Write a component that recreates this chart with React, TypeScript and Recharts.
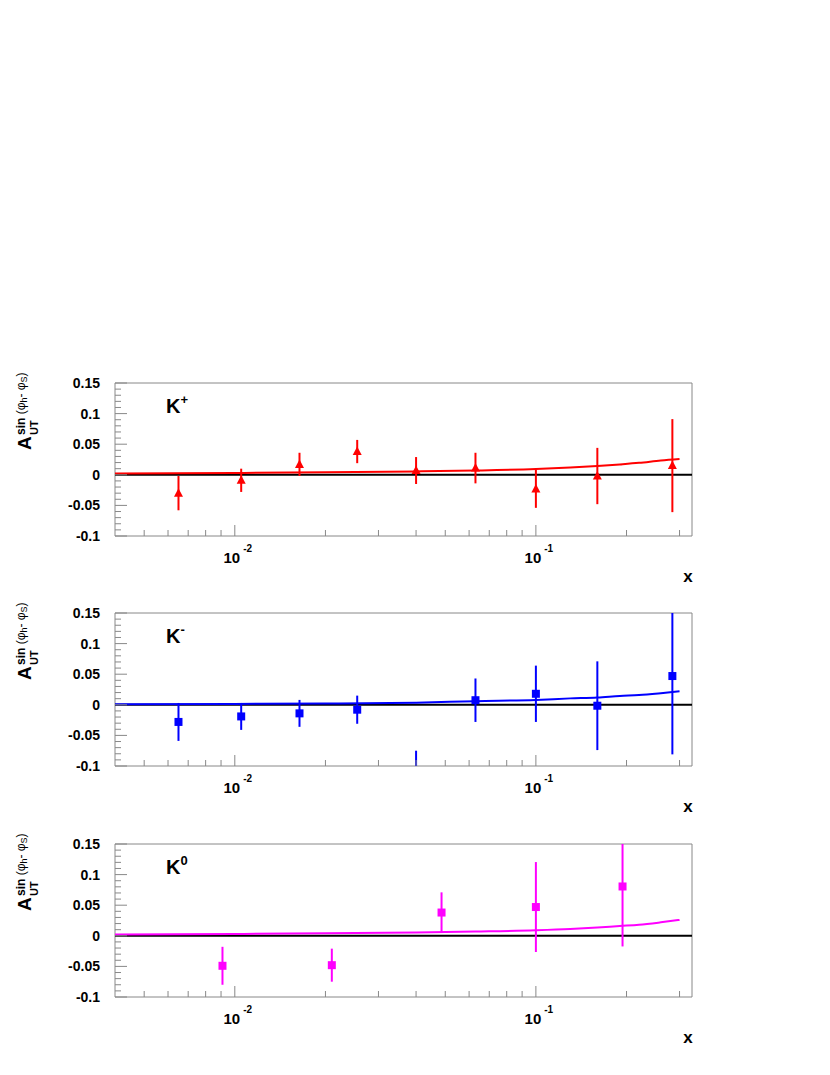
import { ComposedChart, XAxis, YAxis, Line, Scatter, ReferenceLine, ReferenceArea } from 'recharts'

const FONT = '"Liberation Sans", Arial, Helvetica, sans-serif'
const FRAME = '#888'

// axis ticks
const X_TICKS = [0.005, 0.006, 0.007, 0.008, 0.009, 0.01, 0.02, 0.03, 0.04, 0.05, 0.06, 0.07, 0.08, 0.09, 0.1, 0.2, 0.3]
const X_MAJOR = [0.01, 0.1]
const X_EXP: Record<string, string> = { '0.01': '-2', '0.1': '-1' }
const Y_TICKS = [-0.1, -0.09, -0.08, -0.07, -0.06, -0.05, -0.04, -0.03, -0.02, -0.01, 0, 0.01, 0.02, 0.03, 0.04, 0.05, 0.06, 0.07, 0.08, 0.09, 0.1, 0.11, 0.12, 0.13, 0.14, 0.15]
const Y_MAJOR = [-0.1, -0.05, 0, 0.05, 0.1, 0.15]

// K+ data
const KP_X = [0.0065, 0.0105, 0.0164, 0.0255, 0.04, 0.063, 0.1, 0.16, 0.284]
const KP_Y = [-0.03, -0.009, 0.017, 0.038, 0.007, 0.011, -0.023, -0.002, 0.015]
const KP_ERR = [0.028, 0.019, 0.019, 0.019, 0.022, 0.025, 0.031, 0.046, 0.076]

// K- data
const KM_X = [0.0065, 0.0105, 0.0164, 0.0255, 0.04, 0.063, 0.1, 0.16, 0.284]
const KM_Y = [-0.028, -0.019, -0.014, -0.008, -0.13, 0.0075, 0.018, -0.0015, 0.047]
const KM_ERR = [0.031, 0.022, 0.022, 0.023, 0.055, 0.0355, 0.046, 0.0725, 0.128]

// K0 data
const K0_X = [0.0091, 0.021, 0.0486, 0.1, 0.194]
const K0_Y = [-0.049, -0.048, 0.038, 0.047, 0.0806]
const K0_ERR = [0.031, 0.027, 0.033, 0.0735, 0.098]

// model curves
const CURVE_X = [0.004, 0.01, 0.02, 0.04, 0.063, 0.1, 0.13, 0.16, 0.19, 0.22, 0.26, 0.3]
const KP_CURVE = [0.002, 0.003, 0.004, 0.0055, 0.007, 0.0095, 0.012, 0.0145, 0.017, 0.0195, 0.0235, 0.026]
const KM_CURVE = [0.001, 0.0015, 0.002, 0.0035, 0.006, 0.008, 0.0105, 0.012, 0.0145, 0.016, 0.019, 0.022]
const K0_CURVE = [0.002, 0.003, 0.004, 0.0055, 0.007, 0.009, 0.011, 0.0135, 0.016, 0.018, 0.022, 0.026]

type Pt = { x: number; y: number; err: number }

const pts = (xs: number[], ys: number[], es: number[]): Pt[] => xs.map((x, i) => ({ x, y: ys[i], err: es[i] }))
const crv = (ys: number[]) => CURVE_X.map((x, i) => ({ x, y: ys[i] }))

const XTick = (props: any) => {
    const { x, y, payload } = props
    const v = payload.value
    const major = X_MAJOR.includes(v)
    return (
        <g>
            <line x1={x} y1={y} x2={x} y2={y - (major ? 11 : 6)} stroke={FRAME} />
            {major && (
                <text x={x + 3} y={y + 27} textAnchor="middle" fontFamily={FONT} fontWeight="bold" fontSize={15} fill="#000">
                    10<tspan dx={3} dy={-11} fontSize={10}>{X_EXP[String(v)]}</tspan>
                </text>
            )}
        </g>
    )
}

const YTick = (props: any) => {
    const { x, y, payload } = props
    const v = payload.value
    const major = Y_MAJOR.includes(v)
    return (
        <g>
            <line x1={x} y1={y} x2={x + (major ? 12 : 6)} y2={y} stroke={FRAME} />
            {major && (
                <text x={x - 15} y={y + 5} textAnchor="end" fontFamily={FONT} fontWeight="bold" fontSize={14} fill="#000">
                    {String(v)}
                </text>
            )}
        </g>
    )
}

const triangle = (color: string) => (p: any) => (
    <polygon points={`${p.cx},${p.cy - 5} ${p.cx - 4.5},${p.cy + 3.5} ${p.cx + 4.5},${p.cy + 3.5}`} fill={color} />
)
const square = (color: string) => (p: any) => (
    <rect x={p.cx - 4} y={p.cy - 4} width={8} height={8} fill={color} />
)

function panelText(name: string, sup: string) {
    return (props: any) => {
        const { x, y, width, height } = props.viewBox
        const bottom = y + height
        return (
            <g fontFamily={FONT} fontWeight="bold" fill="#000">
                <text x={x + 51} y={y + 30} fontSize={20}>
                    {name}
                    <tspan dy={-9} fontSize={13}>{sup}</tspan>
                </text>
                <text x={x + width - 4} y={bottom + 46} fontSize={17} textAnchor="middle">x</text>
                <g transform={`translate(${x - 84},${y + 67}) rotate(-90)`}>
                    <text x={0} y={0} fontSize={19}>A</text>
                    <text x={15} y={7} fontSize={11}>UT</text>
                    <text x={15} y={-6} fontSize={12}>
                        sin <tspan fontWeight="normal">(φ</tspan>
                        <tspan dy={2} fontSize={9} fontWeight="normal">h</tspan>
                        <tspan dy={-2} fontWeight="normal">- φ</tspan>
                        <tspan dy={2} fontSize={9} fontWeight="normal">S</tspan>
                        <tspan dy={-2} fontWeight="normal">)</tspan>
                    </text>
                </g>
            </g>
        )
    }
}

interface PanelProps {
    top: number
    name: string
    sup: string
    color: string
    points: Pt[]
    curve: { x: number; y: number }[]
    shape: (p: any) => any
}

function Panel({ top, name, sup, color, points, curve, shape }: PanelProps) {
    return (
        <div style={{ position: 'absolute', left: 0, top }}>
            <ComposedChart width={830} height={220} margin={{ top: 13, right: 138, bottom: 0, left: 55 }}>
                <XAxis
                    dataKey="x"
                    type="number"
                    scale="log"
                    domain={[0.004, 0.33]}
                    allowDataOverflow
                    ticks={X_TICKS}
                    interval={0}
                    tickSize={0}
                    tickMargin={0}
                    tickLine={false}
                    axisLine={false}
                    tick={XTick}
                    height={54}
                />
                <YAxis
                    type="number"
                    domain={[-0.1, 0.15]}
                    allowDataOverflow
                    ticks={Y_TICKS}
                    interval={0}
                    tickSize={0}
                    tickMargin={0}
                    tickLine={false}
                    axisLine={false}
                    tick={YTick}
                    width={60}
                />
                <ReferenceArea
                    x1={0.004}
                    x2={0.33}
                    y1={-0.1}
                    y2={0.15}
                    fill="none"
                    stroke={FRAME}
                    strokeWidth={1}
                    label={panelText(name, sup)}
                />
                <ReferenceLine y={0} stroke="#000" strokeWidth={2} />
                <Line data={curve} dataKey="y" type="monotone" stroke={color} strokeWidth={2} dot={false} isAnimationActive={false} />
                {/* error bars as two-point lines so they are clipped to the frame */}
                {points.map((p, i) => (
                    <Line
                        key={`err-${i}`}
                        data={[{ x: p.x, y: p.y - p.err }, { x: p.x, y: p.y + p.err }]}
                        dataKey="y"
                        stroke={color}
                        strokeWidth={2}
                        dot={false}
                        isAnimationActive={false}
                    />
                ))}
                <Scatter data={points} dataKey="y" shape={shape} fill={color} isAnimationActive={false} />
            </ComposedChart>
        </div>
    )
}

export default function App() {
    return (
        <div style={{ position: 'absolute', left: 0, top: 0, width: 830, height: 1075, background: '#fff' }}>
            <Panel top={370} name="K" sup="+" color="#ff0000" points={pts(KP_X, KP_Y, KP_ERR)} curve={crv(KP_CURVE)} shape={triangle('#ff0000')} />
            <Panel top={600} name="K" sup="-" color="#0000ff" points={pts(KM_X, KM_Y, KM_ERR)} curve={crv(KM_CURVE)} shape={square('#0000ff')} />
            <Panel top={831} name="K" sup="0" color="#ff00ff" points={pts(K0_X, K0_Y, K0_ERR)} curve={crv(K0_CURVE)} shape={square('#ff00ff')} />
        </div>
    )
}
